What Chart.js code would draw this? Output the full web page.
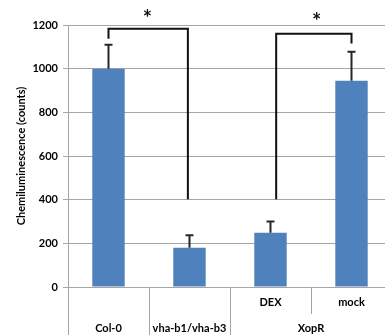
<!DOCTYPE html>
<html>
<head>
<meta charset="utf-8">
<script src="https://cdn.jsdelivr.net/npm/chart.js@4.4.1/dist/chart.umd.min.js"></script>
<style>
  body { margin: 0; overflow: hidden; background: #fff; }
  .wrap { position: relative; width: 392px; height: 335px; }
</style>
</head>
<body>
<div class="wrap"><canvas id="chemChart"></canvas></div>
<script>
// Chart data
const categories = ["Col-0", "vha-b1/vha-b3", "DEX", "mock"];
const values = [1000, 180, 248, 945];
const errors = [110, 57, 52, 133];
const yTicks = [0, 200, 400, 600, 800, 1000, 1200];

// lower label rows: [label, from index, to index, row]
const groupLabels = [
  ["DEX", 2, 2, 1],
  ["mock", 3, 3, 1],
  ["Col-0", 0, 0, 2],
  ["vha-b1/vha-b3", 1, 1, 2],
  ["XopR", 2, 3, 2],
];

// significance brackets: left x, right x (category units), top, left leg end, right leg end
const bracketX1 = [0, 2.07];
const bracketX2 = [0.98, 3];
const bracketTop = [1183, 1160];
const bracketLeftEnd = [1137, 402];
const bracketRightEnd = [402, 1115];
const starX = [0.48, 2.57];
const starY = [1248, 1234];

const FONT = "Lato, 'Open Sans', sans-serif";
const GRID = "#a6a6a6";

// Error bars + brackets + lower axis labels
const extrasPlugin = {
  id: "extras",
  afterDatasetsDraw(chart) {
    const ctx = chart.ctx;
    const x = chart.scales.x;
    const y = chart.scales.y;
    const area = chart.chartArea;

    ctx.save();
    // error bars
    ctx.strokeStyle = "#262626";
    ctx.lineWidth = 2;
    values.forEach((v, i) => {
      const px = x.getPixelForValue(i);
      const top = y.getPixelForValue(v + errors[i]);
      ctx.beginPath();
      ctx.moveTo(px, y.getPixelForValue(v));
      ctx.lineTo(px, top);
      ctx.moveTo(px - 4, top);
      ctx.lineTo(px + 4, top);
      ctx.stroke();
    });

    // brackets
    ctx.strokeStyle = "#111";
    ctx.lineWidth = 2;
    bracketX1.forEach((b, i) => {
      const x1 = x.getPixelForValue(b);
      const x2 = x.getPixelForValue(bracketX2[i]);
      ctx.beginPath();
      ctx.moveTo(x1, y.getPixelForValue(bracketLeftEnd[i]));
      ctx.lineTo(x1, y.getPixelForValue(bracketTop[i]));
      ctx.lineTo(x2, y.getPixelForValue(bracketTop[i]));
      ctx.lineTo(x2, y.getPixelForValue(bracketRightEnd[i]));
      ctx.stroke();
    });

    ctx.fillStyle = "#111";
    ctx.font = "bold 22px " + FONT;
    ctx.textAlign = "center";
    ctx.textBaseline = "middle";
    starX.forEach((s, i) => {
      ctx.fillText("*", x.getPixelForValue(s), y.getPixelForValue(starY[i]) + 4);
    });

    // lower category table
    const h = chart.height;
    ctx.strokeStyle = GRID;
    ctx.lineWidth = 1;
    ctx.beginPath();
    ctx.moveTo(area.left + 0.5, area.bottom);
    ctx.lineTo(area.left + 0.5, h);
    [0.5, 1.5].forEach((d) => {
      const px = Math.round(x.getPixelForValue(d)) + 0.5;
      ctx.moveTo(px, area.bottom);
      ctx.lineTo(px, h);
    });
    const mid = Math.round(x.getPixelForValue(2.5)) + 0.5;
    ctx.moveTo(mid, area.bottom);
    ctx.lineTo(mid, area.bottom + 27);
    ctx.stroke();

    ctx.fillStyle = "#000";
    ctx.font = "bold 11px " + FONT;
    groupLabels.forEach(([label, a, b, row]) => {
      const px = (x.getPixelForValue(a) + x.getPixelForValue(b)) / 2;
      const py = row === 1 ? area.bottom + 15 : area.bottom + 41;
      ctx.fillText(label, px, py);
    });
    ctx.restore();
  },
};

const chart = new Chart(document.getElementById("chemChart"), {
  type: "bar",
  data: {
    labels: categories,
    datasets: [
      {
        data: values,
        backgroundColor: "#4f81bd",
        borderWidth: 0,
        barPercentage: 0.4,
        categoryPercentage: 1,
      },
    ],
  },
  options: {
    responsive: true,
    maintainAspectRatio: false,
    animation: false,
    layout: { padding: { top: 25, bottom: 48, left: 0, right: 0 } },
    plugins: {
      legend: { display: false },
      tooltip: { enabled: false },
    },
    scales: {
      x: { display: false },
      y: {
        min: 0,
        max: 1200,
        afterFit: (scale) => { scale.width = 68; },
        afterBuildTicks: (scale) => { scale.ticks = yTicks.map((v) => ({ value: v })); },
        grid: { color: GRID, lineWidth: 1, tickLength: 5 },
        border: { color: GRID },
        ticks: {
          color: "#000",
          padding: 5,
          font: { family: FONT, size: 11, weight: "bold" },
          callback: (value) => String(value),
        },
        title: {
          display: true,
          text: "Chemiluminescence (counts)",
          color: "#000",
          padding: { top: 15, bottom: 0 },
          font: { family: FONT, size: 11, weight: "bold" },
        },
      },
    },
  },
  plugins: [extrasPlugin],
});
</script>
</body>
</html>
